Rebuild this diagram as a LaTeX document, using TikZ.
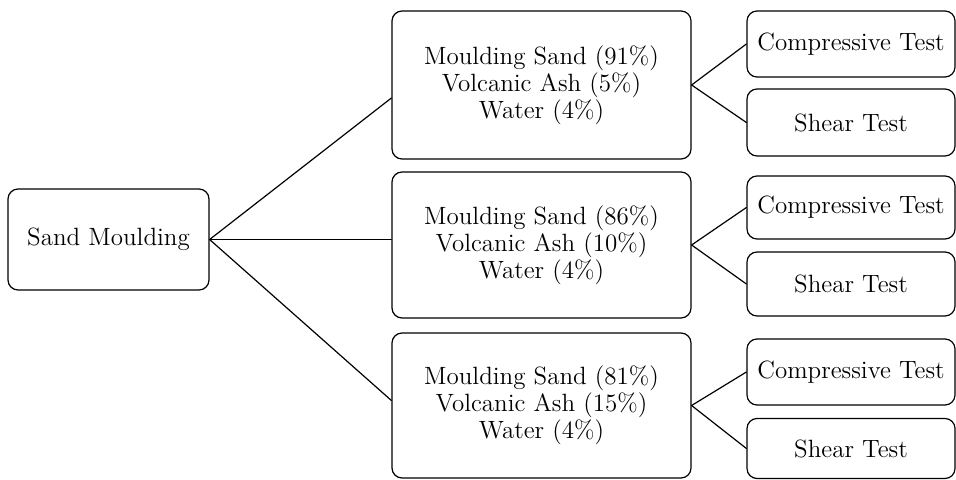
\documentclass[tikz,border=0pt]{standalone}
\usepackage{tikz}
\usetikzlibrary{calc}

\tikzset{
	box/.style={draw, rounded corners=5pt, line width=0.6pt, align=center,
		inner sep=2pt, font=\fontsize{12.5}{12}\selectfont},
	link/.style={line width=0.6pt}
}

\begin{document}
\begin{tikzpicture}[x=0.5pt, y=-0.5pt, line join=round, line cap=round]
	
	% --- 1. canvas (same size as the reference) ---
	\useasboundingbox (0,0) rectangle (956,480);
	
	% --- 2. root node ---
	\node[box, minimum width=100.5pt, minimum height=50.5pt] (sm) at (108.5,239.5) {Sand Moulding};
	
	% --- 3. the three mixtures ---
	\node[box, minimum width=149.5pt, minimum height=74pt] (mix1) at (541.5,85)
		{Moulding Sand (91\%)\\Volcanic Ash (5\%)\\Water (4\%)};
	\node[box, minimum width=149.5pt, minimum height=73pt] (mix2) at (541.5,245)
		{Moulding Sand (86\%)\\Volcanic Ash (10\%)\\Water (4\%)};
	\node[box, minimum width=149.5pt, minimum height=72.5pt] (mix3) at (541.5,405.5)
		{Moulding Sand (81\%)\\Volcanic Ash (15\%)\\Water (4\%)};
	
	% --- 4. tests for each mixture ---
	\node[box, minimum width=104pt, minimum height=33pt]   (comp1)  at (851,44)    {Compressive Test};
	\node[box, minimum width=104pt, minimum height=33.5pt] (shear1) at (851,122.5) {Shear Test};
	\node[box, minimum width=104pt, minimum height=31.5pt] (comp2)  at (851,207.5) {Compressive Test};
	\node[box, minimum width=104pt, minimum height=32pt]   (shear2) at (851,284)   {Shear Test};
	\node[box, minimum width=104pt, minimum height=33pt]   (comp3)  at (851,372)   {Compressive Test};
	\node[box, minimum width=104pt, minimum height=30pt]   (shear3) at (851,448.5) {Shear Test};
	
	% --- 5. connectors ---
	% the fan from the root meets the mixtures a little off centre, as in the source
	\draw[link] (sm.east) -- ($(mix1.west)+(0,13)$);
	\draw[link] (sm.east) -- (sm.east -| mix2.west);
	\draw[link] (sm.east) -- ($(mix3.west)+(0,-5)$);
	
	\foreach \i in {1,2,3} {
		\draw[link] (mix\i.east) -- (comp\i.west);
		\draw[link] (mix\i.east) -- (shear\i.west);
	}
	
\end{tikzpicture}
\end{document}
